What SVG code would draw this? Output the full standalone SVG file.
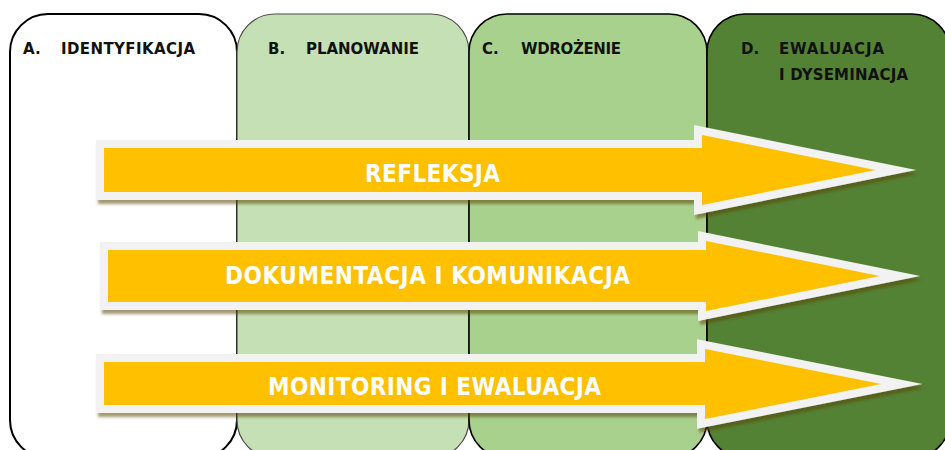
<svg xmlns="http://www.w3.org/2000/svg" width="945" height="450" viewBox="0 0 945 450">
<defs>
<style>
.hdr{font-family:"DejaVu Sans",sans-serif;font-weight:bold;font-size:15px;fill:#111}
.arr{fill:#FFC000;stroke:#F2F2F2;stroke-width:8;stroke-linejoin:miter;stroke-miterlimit:10}
.lbl{font-family:"DejaVu Sans Condensed","DejaVu Sans",sans-serif;font-weight:bold;font-size:24px;fill:#fff}
</style>
<filter id="sh" x="-5%" y="-20%" width="115%" height="150%">
<feDropShadow dx="2" dy="4" stdDeviation="1.5" flood-color="#5a4200" flood-opacity="0.55"/>
</filter>
</defs>
<rect x="0" y="0" width="945" height="450" fill="#fff"/>
<g id="colA">
<rect x="10" y="14" width="227" height="444" rx="38" ry="38" fill="#fff" stroke="#000" stroke-width="2"/>
<text class="hdr" x="23" y="54">A.</text>
<text class="hdr" x="61" y="54" textLength="134">IDENTYFIKACJA</text>
</g>
<g id="colB">
<rect x="237" y="14" width="232" height="444" rx="38" ry="38" fill="#C5E0B4" stroke="#4d4d4d" stroke-width="1.2"/>
<text class="hdr" x="268" y="54">B.</text>
<text class="hdr" x="306" y="54" textLength="113">PLANOWANIE</text>
</g>
<g id="colC">
<rect x="469" y="14" width="238" height="444" rx="38" ry="38" fill="#A9D18E" stroke="#000" stroke-width="1.6"/>
<text class="hdr" x="482" y="54">C.</text>
<text class="hdr" x="521" y="54" textLength="100">WDROŻENIE</text>
</g>
<g id="colD">
<rect x="707" y="14" width="243" height="444" rx="38" ry="38" fill="#548235" stroke="#000" stroke-width="1.6"/>
<text class="hdr" x="741" y="54">D.</text>
<text class="hdr" x="779" y="54" textLength="105">EWALUACJA</text>
<text class="hdr" x="779" y="80" textLength="129">I DYSEMINACJA</text>
</g>
<g id="arrow-refleksja">
<path class="arr" filter="url(#sh)" d="M100,144 H698 V130 L896,170 L698,210 V196 H100 Z"/>
<text class="lbl" x="365" y="182" textLength="135">REFLEKSJA</text>
</g>
<g id="arrow-dokumentacja">
<path class="arr" filter="url(#sh)" d="M104,246 H702 V236 L900,276 L702,316 V306 H104 Z"/>
<text class="lbl" x="225" y="284" textLength="405">DOKUMENTACJA I KOMUNIKACJA</text>
</g>
<g id="arrow-monitoring">
<path class="arr" filter="url(#sh)" d="M100,358 H701 V344 L902,384 L701,424 V409 H100 Z"/>
<text class="lbl" x="268" y="395" textLength="333">MONITORING I EWALUACJA</text>
</g>
</svg>
